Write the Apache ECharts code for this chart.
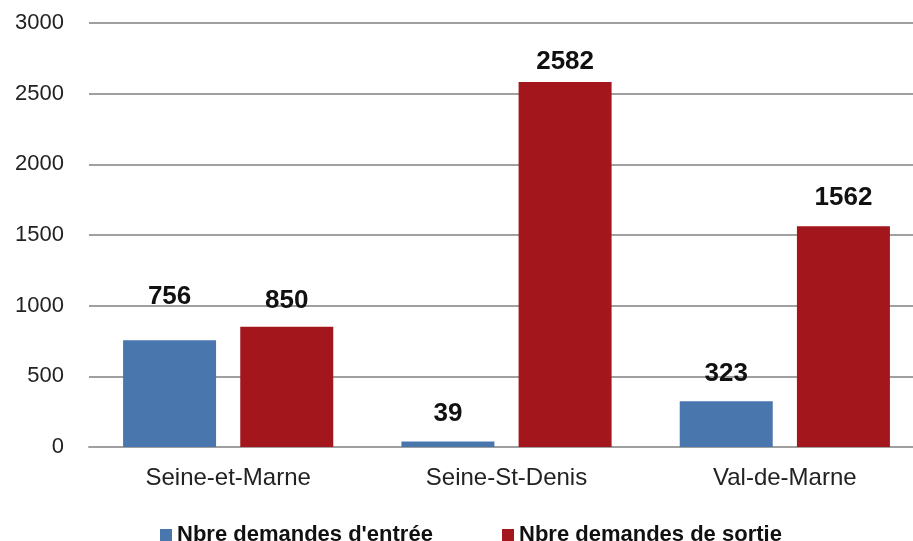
<!DOCTYPE html>
<html>
<head>
<meta charset="utf-8">
<script src="https://cdn.jsdelivr.net/npm/echarts@6/dist/echarts.min.js"></script>
<style>
  html, body { margin: 0; padding: 0; background: #fff; overflow: hidden; }
  /* the original picture is cut off on the right, so the chart is drawn a bit wider */
  #chart { width: 924px; height: 541px; }
</style>
</head>
<body>
<div id="chart"></div>
<script>
// departements
const categories = ['Seine-et-Marne', 'Seine-St-Denis', 'Val-de-Marne'];
const entreeName = "Nbre demandes d'entrée";
const sortieName = 'Nbre demandes de sortie';
const entree = [756, 39, 323];
const sortie = [850, 2582, 1562];
const yTicks = [0, 500, 1000, 1500, 2000, 2500, 3000];

const font = "'Liberation Sans', Arial, sans-serif";
const blue = '#4a76ae';
const red = '#a3161b';

// label distance tweaks (labels moved by hand in the original)
const entreeDist = [30, 15, 15];
const sortieDist = [13, 7, 15];

function withLabel(vals, dist) {
    return vals.map((v, i) => ({ value: v, label: { distance: dist[i] } }));
}

let chart = echarts.init(document.getElementById('chart'));
let labelStyle = {
    show: true,
    position: 'top',
    color: '#111',
    fontFamily: font,
    fontWeight: 'bold',
    fontSize: 26
};
let legendText = { fontFamily: font, fontWeight: 'bold', fontSize: 22, color: '#111' };
let option = {
    animation: false,
    grid: {
        left: 89,
        top: 23,
        right: 0,
        bottom: 94
    },
    legend: [
        {
            data: [entreeName],
            left: 155,
            top: 519,
            itemWidth: 12,
            itemHeight: 12,
            icon: 'rect',
            itemStyle: { borderWidth: 0 },
            textStyle: legendText
        },
        {
            data: [sortieName],
            left: 497,
            top: 519,
            itemWidth: 12,
            itemHeight: 12,
            icon: 'rect',
            itemStyle: { borderWidth: 0 },
            textStyle: legendText
        }
    ],
    xAxis: {
        type: 'category',
        data: categories,
        axisTick: { show: false },
        axisLine: { lineStyle: { color: '#a0a0a0', width: 2 } },
        axisLabel: { color: '#222', fontFamily: font, fontSize: 24, margin: 19 }
    },
    yAxis: {
        type: 'value',
        min: yTicks[0],
        max: yTicks[yTicks.length - 1],
        interval: 500,
        axisLine: { show: false },
        axisTick: { show: false },
        axisLabel: {
            color: '#222',
            fontFamily: font,
            fontSize: 22,
            margin: 25,
            formatter: v => String(v)
        },
        splitLine: { lineStyle: { color: '#a0a0a0', width: 2 } }
    },
    series: [
        {
            name: entreeName,
            type: 'bar',
            data: withLabel(entree, entreeDist),
            barWidth: 93,
            barGap: '26%',
            itemStyle: { color: blue },
            label: labelStyle
        },
        {
            name: sortieName,
            type: 'bar',
            data: withLabel(sortie, sortieDist),
            barWidth: 93,
            itemStyle: { color: red },
            label: labelStyle
        }
    ]
};
chart.setOption(option);
</script>
</body>
</html>
